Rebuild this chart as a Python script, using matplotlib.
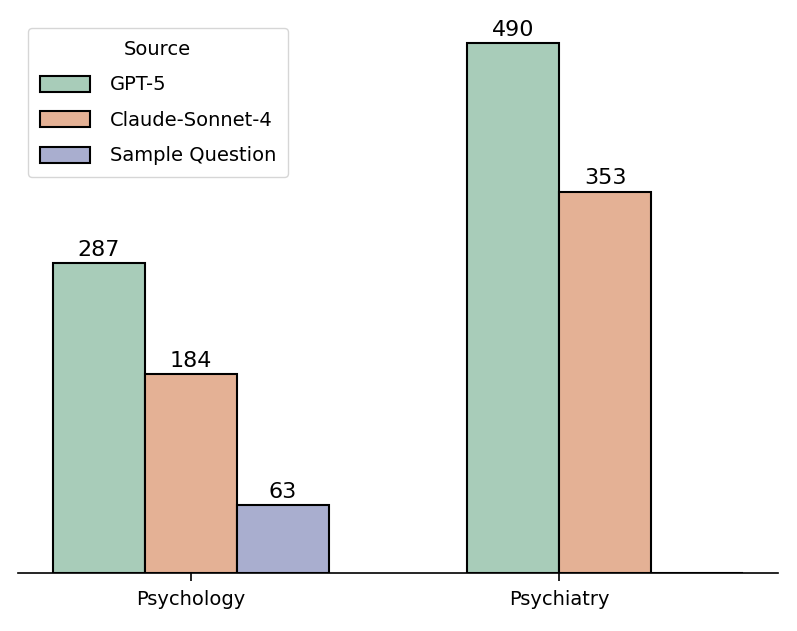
import numpy as np
import matplotlib
matplotlib.use("Agg")
import matplotlib.pyplot as plt

categories = ["Psychology", "Psychiatry"]
sources = ["GPT-5", "Claude-Sonnet-4", "Sample Question"]
gpt5 = [287, 490]
claude = [184, 353]
sample = [63, 0]
colors = ["#a8ccb9", "#e4b195", "#a9aecf"]

plt.rcParams["font.family"] = ["DejaVu Sans"]

fig = plt.figure(figsize=(7.97, 6.31), dpi=100)
ax = fig.add_axes([18 / 797, 58 / 631, 760 / 797, 556 / 631])

w = 0.25
# group start offsets (second group is shifted right of its tick)
starts = [-1.5 * w, 0.75]
series = [gpt5, claude, sample]
for i, (name, vals, c) in enumerate(zip(sources, series, colors)):
    xs = [starts[g] + (i + 0.5) * w for g in range(len(categories))]
    ax.bar(xs, vals, width=w, color=c, edgecolor="black",
           linewidth=1.5, label=name)
    for x, v in zip(xs, vals):
        if v > 0:
            ax.text(x, v + 3, str(v), ha="center", va="bottom", fontsize=16)

ax.set_xticks(range(len(categories)))
ax.set_xticklabels(categories, fontsize=14)
ax.tick_params(axis="x", length=6, width=1.2, pad=6)
ax.set_yticks([])
ax.set_xlim(-0.47, 1.595)
ax.set_ylim(0, 514.5)
for s in ["left", "right", "top"]:
    ax.spines[s].set_visible(False)
ax.spines["bottom"].set_linewidth(1.2)

leg = ax.legend(title="Source", loc="upper left", fontsize=14,
                title_fontsize=14, bbox_to_anchor=(0.013, 0.98),
                borderaxespad=0, frameon=True, fancybox=True,
                borderpad=0.6, handlelength=2.6, handleheight=0.9,
                handletextpad=1.0, labelspacing=0.85)
leg.get_frame().set_edgecolor("#cccccc")

fig.savefig("out.png", dpi=100)
